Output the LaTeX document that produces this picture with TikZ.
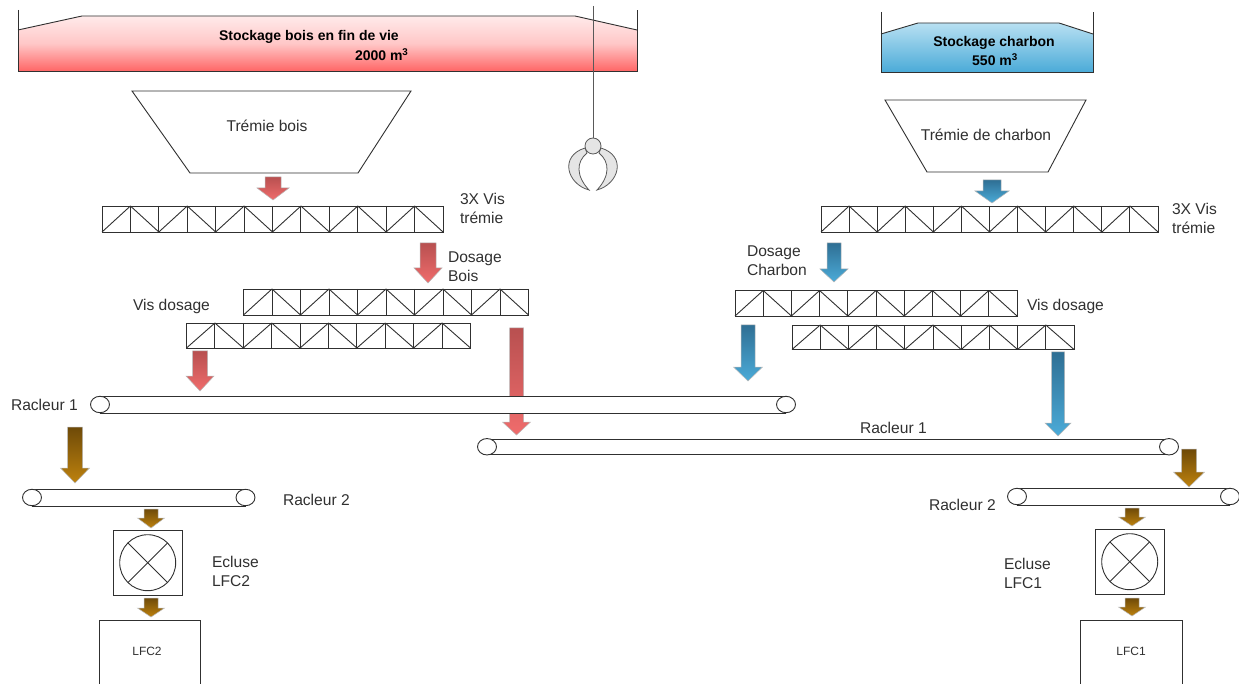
\documentclass[tikz,border=0pt]{standalone}
\usepackage{fontspec}
\setmainfont{Liberation Sans}
\usetikzlibrary{shapes.geometric}
\definecolor{inkc}{HTML}{303030}
\definecolor{redtop}{HTML}{B85050}
\definecolor{redbot}{HTML}{F06C6C}
\definecolor{bluetop}{HTML}{2F6F94}
\definecolor{bluebot}{HTML}{4BABD8}
\definecolor{siloblue}{HTML}{B8E0F2}
\definecolor{browntop}{HTML}{6E4A08}
\definecolor{brownbot}{HTML}{BE820E}
\tikzset{
  x=1pt,y=-1pt,
  ln/.style={draw=inkc,line width=0.9pt},
  lbl/.style={font=\fontsize{15.6}{19}\selectfont,text=inkc,inner sep=0,outer sep=0},
  lblL/.style={lbl,anchor=west,align=left},
  boldlbl/.style={font=\fontsize{14}{17}\selectfont\bfseries,text=black,inner sep=0,outer sep=0},
  smalllbl/.style={font=\fontsize{12}{14}\selectfont,text=inkc,inner sep=0,outer sep=0},
  screwbox/.style={ln,anchor=north west,inner sep=0,outer sep=0},
  hopper/.style={ln,fill=white},
}
% name x top headstart tip shafthalf headhalf dark light
\newcommand{\fallarrow}[9]{%
  \coordinate (#1) at (#2,#5);
  \shade[top color=#8,bottom color=#9,draw=black!28,line width=0.5pt]
    ({#2-#6},#3) -- ({#2+#6},#3) -- ({#2+#6},#4) -- ({#2+#7},#4) -- (#2,#5)
    -- ({#2-#7},#4) -- ({#2-#6},#4) -- cycle;
}
% name x0 y0 x1 y1 cells
\newcommand{\screwrow}[6]{%
  \node[screwbox,minimum width={(#4-#2)*1pt},minimum height={(#5-#3)*1pt}] (#1) at (#2,#3) {};
  \foreach \k in {1,...,#6}{
    \pgfmathsetmacro{\xa}{#2+(\k-1)*(#4-#2)/#6}
    \pgfmathsetmacro{\xb}{#2+\k*(#4-#2)/#6}
    \draw[ln] (\xb,#3) -- (\xb,#5);
    \pgfmathparse{int(mod(\k,2))}
    \ifnum\pgfmathresult=1
      \draw[ln] (\xa,#5) -- (\xb,#3);
    \else
      \draw[ln] (\xa,#3) -- (\xb,#5);
    \fi
  }
}
% name xleft xright top bottom
\newcommand{\conveyor}[5]{%
  \fill[white] (#2,#4) rectangle (#3,#5);
  \coordinate (#1) at ({(#2+#3)/2},#4);
  \draw[ln] (#2,#4) -- (#3,#4);
  \draw[ln] (#2,#5) -- (#3,#5);
  \draw[ln,fill=white] (#2,{(#4+#5)/2}) ellipse [x radius=9.5pt,y radius=8.2pt];
  \draw[ln,fill=white] (#3,{(#4+#5)/2}) ellipse [x radius=9.5pt,y radius=8.2pt];
}
% name x0 y0 x1 y1 cx cy
\newcommand{\airlock}[7]{%
  \node[screwbox,minimum width={(#4-#2)*1pt},minimum height={(#5-#3)*1pt}] (#1) at (#2,#3) {};
  \node[ln,circle,minimum size=56pt,inner sep=0,outer sep=0] (#1c) at (#6,#7) {};
  \draw[ln] (#1c.45) -- (#1c.225);
  \draw[ln] (#1c.135) -- (#1c.315);
}
\begin{document}
\begin{tikzpicture}
\useasboundingbox (0,0) rectangle (1239,684);
% silo bois
\shade[top color=red!8,bottom color=red!60,middle color=red!22] (18,30) -- (82,16) -- (575,16) -- (637,30) -- (637,71) -- (18,71) -- cycle;
\draw[ln] (18,10) -- (18,71) -- (637,71) -- (637,10);
\draw[ln] (18,30) -- (82,16) -- (575,16) -- (637,30);
\node[boldlbl,anchor=west] (sb) at (219,37) {Stockage bois en fin de vie};
\node[boldlbl,anchor=west] (sbv) at (355,55) {2000 m\textsuperscript{3}};
% silo charbon
\shade[top color=siloblue,bottom color=bluebot] (881,34) -- (918,23) -- (1059,23) -- (1093,34) -- (1093,72) -- (881,72) -- cycle;
\draw[ln] (881,12) -- (881,72) -- (1093,72) -- (1093,12);
\draw[ln] (881,34) -- (918,23) -- (1059,23) -- (1093,34);
\node[boldlbl] (sc) at (994,43) {Stockage charbon};
\node[boldlbl] (scv) at (995,60) {550 m\textsuperscript{3}};
% hoppers
\draw[hopper] (132,91) -- (411,91) -- (358,173) -- (190,173) -- cycle;
\node[lbl] (tb) at (267,126) {Trémie bois};
\draw[hopper] (885,100) -- (1086,100) -- (1048,172) -- (927,172) -- cycle;
\node[lbl] (tc) at (986,135) {Trémie de charbon};
% claw
\draw[line width=1pt,draw=inkc!80] (593,6) -- (593,138);
\foreach \sx in {-1,1}{
  \draw[draw=inkc!80,line width=0.8pt,fill=black!10]
    ({593+\sx*8},148) .. controls ({593+\sx*34},156) and ({593+\sx*26},184) .. ({593+\sx*4},190)
    .. controls ({593+\sx*17},176) and ({593+\sx*17},162) .. ({593+\sx*6},153) -- cycle;
}
\node[draw=inkc!80,line width=0.8pt,fill=black!10,circle,minimum size=16pt,inner sep=0] (ball) at (593,146) {};
% screws
\screwrow{vtb}{102}{206}{443}{232}{12}
\screwrow{vdb1}{243.5}{289}{528.5}{315}{10}
\screwrow{vdb2}{186.5}{323}{470.5}{348}{10}
\screwrow{vtc}{821}{206}{1158}{232}{12}
\screwrow{vdc1}{735}{290.5}{1017}{316}{10}
\screwrow{vdc2}{792}{325}{1074}{349.5}{10}
% arrows under conveyors
\fallarrow{a1}{273}{177}{188}{200}{8}{16}{redtop}{redbot}
\fallarrow{a2}{428}{243}{268}{283}{8}{14}{redtop}{redbot}
\fallarrow{a3}{200}{351}{376}{391}{7.5}{14}{redtop}{redbot}
\fallarrow{a4}{516.5}{328}{422}{435}{7}{14}{redtop}{redbot}
\fallarrow{b1}{992}{180}{191}{203}{9}{17}{bluetop}{bluebot}
\fallarrow{b2}{834}{243}{269}{282}{7}{14}{bluetop}{bluebot}
\fallarrow{b3}{748}{325}{367}{381}{7}{14.5}{bluetop}{bluebot}
\fallarrow{b4}{1058}{352}{423}{436}{6.5}{13}{bluetop}{bluebot}
% conveyors
\conveyor{r1a}{100}{786}{396}{413}
\conveyor{r1b}{487}{1169}{439}{454.5}
\conveyor{r2a}{32}{245.5}{489}{506}
\conveyor{r2b}{1017}{1230}{488}{505}
% brown arrows
\fallarrow{c1}{75}{427}{468}{483}{7.5}{14.5}{browntop}{brownbot}
\fallarrow{c2}{151}{509}{518}{528}{7}{13.5}{browntop}{brownbot}
\fallarrow{c3}{151}{598}{608}{617}{7}{13.5}{browntop}{brownbot}
\fallarrow{c4}{1189}{449}{472}{487}{7.5}{15.5}{browntop}{brownbot}
\fallarrow{c5}{1132}{508}{517}{526}{7}{13.5}{browntop}{brownbot}
\fallarrow{c6}{1132}{598}{607}{616}{7}{13.5}{browntop}{brownbot}
% airlocks
\airlock{e2}{113}{530}{182.5}{595}{147.7}{562.7}
\airlock{e1}{1095}{529}{1164.5}{594}{1129.7}{561.7}
% boilers
\draw[ln] (99.5,690) -- (99.5,620.7) -- (200.5,620.7) -- (200.5,690);
\draw[ln] (1080.7,690) -- (1080.7,620.7) -- (1182.3,620.7) -- (1182.3,690);
\node[smalllbl] (lfc2) at (147,651) {LFC2};
\node[smalllbl] (lfc1) at (1131,651) {LFC1};
% labels
\node[lblL] (l1) at (460,208) {3X Vis\\trémie};
\node[lblL] (l2) at (1172,218) {3X Vis\\trémie};
\node[lblL] (l3) at (448,266.5) {Dosage\\Bois};
\node[lblL] (l4) at (747,260.5) {Dosage\\Charbon};
\node[lblL] (l5) at (133,306) {Vis dosage};
\node[lblL] (l6) at (1027,306) {Vis dosage};
\node[lblL] (l7) at (11,405) {Racleur 1};
\node[lblL] (l8) at (860,428) {Racleur 1};
\node[lblL] (l9) at (283,500) {Racleur 2};
\node[lblL] (l10) at (929,505) {Racleur 2};
\node[lblL] (l11) at (212,571.5) {Ecluse\\LFC2};
\node[lblL] (l12) at (1004,573.5) {Ecluse\\LFC1};
\end{tikzpicture}
\end{document}
